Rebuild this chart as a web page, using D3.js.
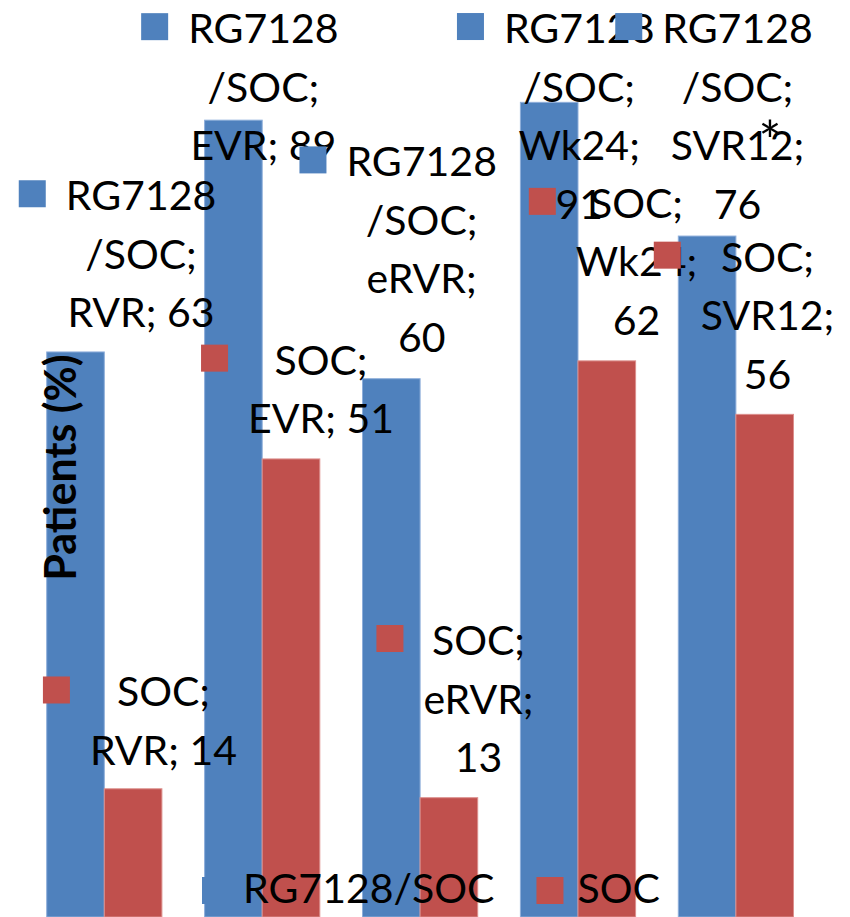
<!DOCTYPE html>
<html>
<head>
<meta charset="utf-8">
<script src="https://cdn.jsdelivr.net/npm/d3@7"></script>
<style>
  html, body { margin: 0; padding: 0; background: #fff; }
  svg { display: block; }
  text { font-family: Lato, "Noto Sans", sans-serif; fill: #000; }
</style>
</head>
<body>
<svg id="chart" width="850" height="917"></svg>
<script>
// Response rates by time point
const categories = ["RVR", "EVR", "eRVR", "Wk24", "SVR12"];
const seriesNames = ["RG7128/SOC", "SOC"];
const rg7128Values = [63, 89, 60, 91, 76];
const socValues = [14, 51, 13, 62, 56];
const seriesColors = ["#4F81BD", "#C0504D"];
const seriesStrokes = ["#8EAEDA", "#DC8F8D"];

// Data-label anchor offsets (from each bar's centre / top)
const rgLabelOffsets = [[65.5, -141.7], [30, -77], [30.4, -202.3], [30, -59.3], [30.4, -193]];
const socLabelOffsets = [[30.4, -82.3], [30, -84.3], [29.6, -142.7], [29.7, -143], [2.8, -142.7]];

const W = 850, H = 917;
const FONT = 41, LINE = 58.5, WRAP = 158;

const svg = d3.select("#chart");

const x0 = d3.scaleBand().domain(categories).range([25.35, 814.85])
  .paddingInner(0.2704).paddingOuter(0.1352);
const x1 = d3.scaleBand().domain(seriesNames).range([0, x0.bandwidth()]);
const y = d3.scaleLinear().domain([0, 100]).range([913.6, 22.1]);

const rows = categories.map((c, i) => ({
  category: c,
  values: [
    { series: seriesNames[0], value: rg7128Values[i], off: rgLabelOffsets[i], s: 0 },
    { series: seriesNames[1], value: socValues[i], off: socLabelOffsets[i], s: 1 }
  ]
}));

// Bars
const groups = svg.append("g").selectAll("g").data(rows).join("g")
  .attr("transform", d => `translate(${x0(d.category)},0)`);
groups.selectAll("rect").data(d => d.values).join("rect")
  .attr("x", d => x1(d.series))
  .attr("y", d => y(d.value))
  .attr("width", x1.bandwidth())
  .attr("height", d => H - y(d.value))
  .attr("fill", d => seriesColors[d.s])
  .attr("stroke", d => seriesStrokes[d.s])
  .attr("stroke-width", 1);

// Y-axis title
svg.append("text")
  .attr("transform", `translate(76,467.5) rotate(-90)`)
  .attr("text-anchor", "middle")
  .attr("font-weight", "bold")
  .attr("font-size", 43)
  .text("Patients (%)");

// Helper for measuring text widths
const measurer = svg.append("text").attr("font-size", FONT).attr("visibility", "hidden");
function textWidth(s) { measurer.text(s); return measurer.node().getComputedTextLength(); }

// Greedy wrap of "Series; Category; Value" labels, series name may break at "/"
function wrapLabel(series, category, value) {
  const parts = series.split("/");
  const tokens = parts.map((p, i) => (i ? "/" : "") + p);
  tokens[tokens.length - 1] += ";";
  const words = tokens.map(t => ({ t, join: "" }))
    .concat([{ t: category + ";", join: " " }, { t: String(value), join: " " }]);
  const lines = [];
  let cur = "";
  words.forEach(w => {
    if (cur === "") { cur = w.t; return; }
    const cand = cur + w.join + w.t;
    if (textWidth(cand) <= WRAP) cur = cand;
    else { lines.push(cur); cur = w.t; }
  });
  if (cur) lines.push(cur);
  return lines;
}

// Data labels (legend key + wrapped text), blue series first then red
const labelLayer = svg.append("g");
[0, 1].forEach(s => {
  rows.forEach(r => {
    const d = r.values[s];
    const cx = x0(r.category) + x1(d.series) + x1.bandwidth() / 2 + d.off[0];
    const by = y(d.value) + d.off[1];
    const lines = wrapLabel(d.series, r.category, d.value);
    const widest = d3.max(lines, l => textWidth(l));
    const g = labelLayer.append("g");
    g.append("text")
      .attr("font-size", FONT)
      .attr("text-anchor", "middle")
      .selectAll("tspan").data(lines).join("tspan")
      .attr("x", cx)
      .attr("y", (l, i) => by + i * LINE)
      .text(l => l);
    g.append("rect")
      .attr("x", cx - widest / 2 - 47)
      .attr("y", by - 30)
      .attr("width", 27).attr("height", 27)
      .attr("fill", seriesColors[s]);
  });
});

// Significance marker on SVR12
const svrIdx = categories.indexOf("SVR12");
svg.append("text")
  .attr("font-size", 54)
  .attr("text-anchor", "middle")
  .attr("x", x0(categories[svrIdx]) + x1(seriesNames[0]) + x1.bandwidth() / 2 + 63)
  .attr("y", 160)
  .text("*");

// Legend
const legend = svg.append("g");
let lx = 202;
seriesNames.forEach((name, i) => {
  legend.append("rect").attr("x", lx).attr("y", 877).attr("width", 27).attr("height", 27)
    .attr("fill", seriesColors[i]);
  const t = legend.append("text").attr("font-size", FONT).attr("x", lx + 41).attr("y", 903).text(name);
  lx = lx + 41 + t.node().getComputedTextLength() + 42;
});
measurer.remove();
</script>
</body>
</html>
